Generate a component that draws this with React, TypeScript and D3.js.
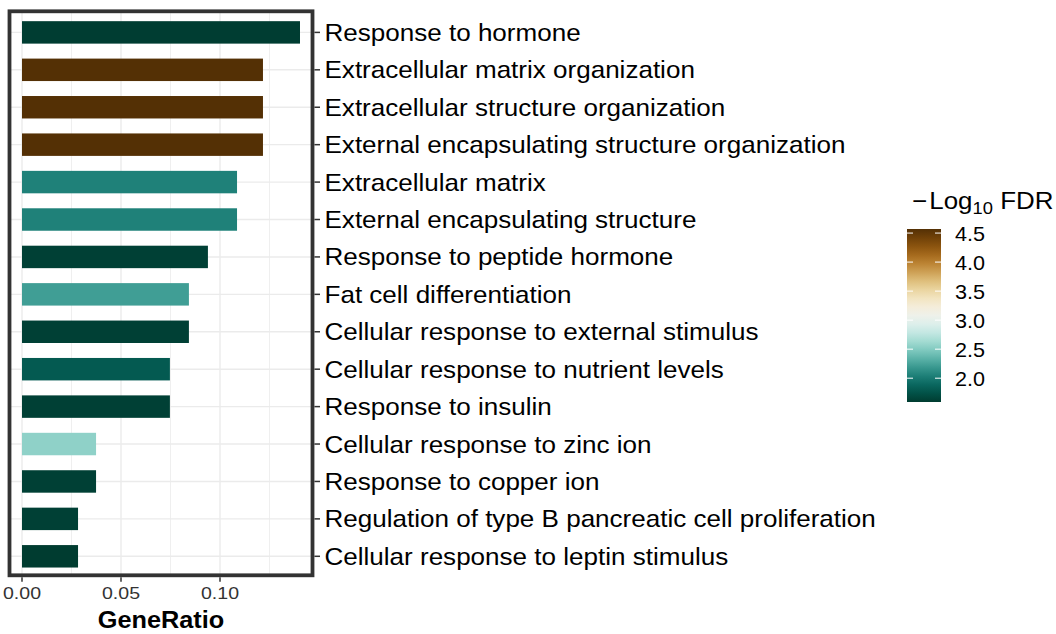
import React from "react";
import * as d3 from "d3";

const categories = [
  "Response to hormone",
  "Extracellular matrix organization",
  "Extracellular structure organization",
  "External encapsulating structure organization",
  "Extracellular matrix",
  "External encapsulating structure",
  "Response to peptide hormone",
  "Fat cell differentiation",
  "Cellular response to external stimulus",
  "Cellular response to nutrient levels",
  "Response to insulin",
  "Cellular response to zinc ion",
  "Response to copper ion",
  "Regulation of type B pancreatic cell proliferation",
  "Cellular response to leptin stimulus",
];
const geneRatio = [0.1404, 0.1217, 0.1217, 0.1217, 0.1086, 0.1086, 0.0939, 0.0843, 0.0843, 0.0747, 0.0747, 0.0374, 0.0374, 0.0283, 0.0283];
const log10FDR = [1.6, 4.57, 4.57, 4.57, 2.05, 2.05, 1.62, 2.22, 1.62, 1.8, 1.62, 2.55, 1.62, 1.62, 1.59];
const xTicks = [0, 0.05, 0.1];
const xMinor = [0.025, 0.075, 0.125];
const legendTicks = [2.0, 2.5, 3.0, 3.5, 4.0, 4.5];

const FONT = "'Liberation Sans', Arial, Helvetica, sans-serif";

export default function App() {
  const W = 1056, H = 634;
  const panel = { left: 9.5, right: 312.5, top: 11.3, bottom: 575.3 };
  const x = d3.scaleLinear().domain([0, 0.1]).range([22, 220]);
  const y = d3.scalePoint<string>().domain(categories).range([32.4, 556.3]);
  const step = y.step();
  const barH = step * 0.6;

  const cMin = d3.min(log10FDR)!;
  const cMax = d3.max(log10FDR)!;
  const colorT = d3.scaleLinear().domain([cMin, cMax]).range([1, 0]);
  const color = (v: number) => d3.interpolateBrBG(colorT(v));

  const leg = { x: 907, w: 34, top: 229, bottom: 402 };
  const ly = d3.scaleLinear().domain([cMin, cMax]).range([leg.bottom, leg.top]);
  const stops = d3.range(0, 1.0001, 0.05);

  return (
    <svg width={W} height={H} style={{ position: "absolute", left: 0, top: 0, background: "#fff" }} fontFamily={FONT}>
      <defs>
        <linearGradient id="lg" x1="0" y1="1" x2="0" y2="0">
          {stops.map((s) => (
            <stop key={s} offset={s} stopColor={color(cMin + s * (cMax - cMin))} />
          ))}
        </linearGradient>
      </defs>
      <rect x={0} y={0} width={W} height={H} fill="#fff" />
      {/* gridlines */}
      {xMinor.map((v) => (
        <line key={"mn" + v} x1={x(v)} x2={x(v)} y1={panel.top} y2={panel.bottom} stroke="#ebebeb" strokeWidth={0.8} />
      ))}
      {xTicks.map((v) => (
        <line key={"mj" + v} x1={x(v)} x2={x(v)} y1={panel.top} y2={panel.bottom} stroke="#ebebeb" strokeWidth={1.4} />
      ))}
      {categories.map((c) => (
        <line key={"hg" + c} x1={panel.left} x2={panel.right} y1={y(c)!} y2={y(c)!} stroke="#ebebeb" strokeWidth={1.4} />
      ))}
      {/* bars */}
      {categories.map((c, i) => (
        <rect key={"b" + c} x={x(0)} y={y(c)! - barH / 2} width={x(geneRatio[i]) - x(0)} height={barH} fill={color(log10FDR[i])} />
      ))}
      {/* panel border */}
      <rect x={panel.left} y={panel.top} width={panel.right - panel.left} height={panel.bottom - panel.top} fill="none" stroke="#333" strokeWidth={3.8} />
      {/* y axis right */}
      {categories.map((c) => (
        <g key={"yl" + c}>
          <line x1={panel.right + 1.9} x2={panel.right + 7.5} y1={y(c)!} y2={y(c)!} stroke="#333" strokeWidth={1.5} />
          <text transform={`translate(${324.5},${y(c)! + 8.5}) scale(1.085,1)`} fontSize={24} fill="#000">{c}</text>
        </g>
      ))}
      {/* x axis */}
      {xTicks.map((v) => (
        <g key={"xt" + v}>
          <line x1={x(v)} x2={x(v)} y1={panel.bottom + 1.9} y2={panel.bottom + 6.5} stroke="#333" strokeWidth={1.5} />
          <text transform={`translate(${x(v)},${599}) scale(1.15,1)`} fontSize={17} textAnchor="middle" fill="#333">{d3.format(".2f")(v)}</text>
        </g>
      ))}
      <text transform={`translate(${(panel.left + panel.right) / 2},${628}) scale(1.1,1)`} fontSize={23} fontWeight="bold" textAnchor="middle" fill="#000">GeneRatio</text>
      {/* legend */}
      <text transform={`translate(912,209) scale(1.08,1)`} fontSize={24} fill="#000">
        <tspan>−</tspan>
        <tspan dx={2}>Log</tspan>
        <tspan fontSize={17} dy={5}>10</tspan>
        <tspan dy={-5}> FDR</tspan>
      </text>
      <rect x={leg.x} y={leg.top} width={leg.w} height={leg.bottom - leg.top} fill="url(#lg)" />
      {legendTicks.map((v) => (
        <g key={"lt" + v}>
          <line x1={leg.x} x2={leg.x + 6} y1={ly(v)} y2={ly(v)} stroke="#fff" strokeWidth={1} />
          <line x1={leg.x + leg.w - 6} x2={leg.x + leg.w} y1={ly(v)} y2={ly(v)} stroke="#fff" strokeWidth={1} />
          <text transform={`translate(955,${ly(v) + 7.5}) scale(1.08,1)`} fontSize={20} fill="#000">{d3.format(".1f")(v)}</text>
        </g>
      ))}
    </svg>
  );
}
